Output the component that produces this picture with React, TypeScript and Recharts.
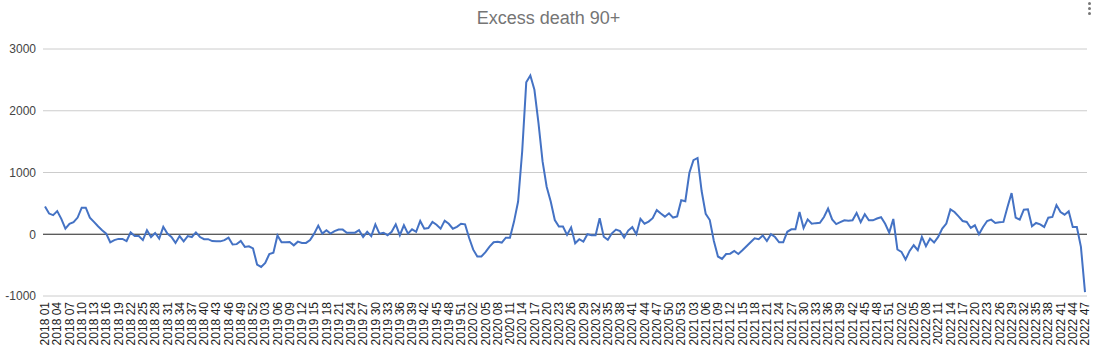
import React from "react";
import {
  LineChart,
  Line,
  XAxis,
  YAxis,
  CartesianGrid,
  ReferenceLine,
} from "recharts";

// weekly excess deaths, age 90+
const years = [2018, 2019, 2020, 2021, 2022];
const weeksPerYear = [52, 52, 53, 52, 47];

const excess2018 = [
  450, 335, 310, 375, 250, 90, 170, 195, 270, 430, 430, 270, 200, 130, 65, 10,
  -130, -95, -75, -75, -110, 30, -30, -30, -95, 65, -45, 20, -70, 120, 10, -45,
  -140, -30, -115, -30, -45, 30, -45, -80, -80, -110, -115, -115, -95, -55,
  -165, -160, -110, -205, -195, -230,
];
const excess2019 = [
  -490, -530, -465, -320, -300, -20, -130, -130, -125, -180, -120, -140, -140,
  -95, 10, 140, 10, 65, 10, 50, 75, 75, 25, 25, 25, 65, -45, 40, -30, 160, 10,
  25, -15, 40, 160, -15, 145, 10, 80, 40, 215, 90, 100, 200, 155, 90, 220, 170,
  90, 120, 170, 160,
];
const excess2020 = [
  -60, -250, -360, -360, -290, -200, -130, -120, -135, -55, -55, 205, 530,
  1340, 2460, 2570, 2340, 1800, 1180, 770, 530, 230, 125, 125, -10, 110, -145,
  -80, -120, 0, -15, -15, 260, -40, -90, 15, 75, 50, -55, 60, 115, 0, 250, 170,
  205, 260, 390, 335, 285, 340, 270, 290, 550,
];
const excess2021 = [
  535, 995, 1200, 1235, 700, 330, 230, -110, -360, -400, -320, -315, -270,
  -320, -260, -195, -130, -65, -80, -20, -110, 0, -45, -130, -130, 40, 80, 80,
  360, 100, 240, 170, 180, 185, 280, 415, 240, 165, 195, 225, 220, 225, 345,
  195, 325, 225, 225, 255, 275, 170, 27, 247,
];
const excess2022 = [
  -247, -285, -410, -270, -178, -258, -43, -194, -70, -135, -43, 91, 172, 403,
  360, 290, 215, 200, 102, 145, 0, 118, 215, 237, 183, 194, 200, 441, 667, 269,
  237, 398, 403, 129, 183, 161, 118, 269, 280, 473, 360, 317, 371, 118, 118,
  -204, -936,
];

const yTicks = [-1000, 0, 1000, 2000, 3000];

const seriesByYear = [excess2018, excess2019, excess2020, excess2021, excess2022];

const data = years.flatMap((yr, yi) =>
  Array.from({ length: weeksPerYear[yi] }, (_, w) => ({
    week: `${yr} ${String(w + 1).padStart(2, "0")}`,
    value: seriesByYear[yi][w],
  }))
);

const FONT = "Arial, 'Liberation Sans', sans-serif";

const WeekTick = (props: any) => {
  const { x, y, payload } = props;
  return (
    <text
      x={x}
      y={y}
      transform={`rotate(-90, ${x}, ${y})`}
      textAnchor="end"
      dy="0.35em"
      fontSize={12}
      fill="#222"
      fontFamily={FONT}
    >
      {payload.value}
    </text>
  );
};

export default function App() {
  return (
    <div
      style={{
        position: "absolute",
        left: 0,
        top: 0,
        width: 1097,
        height: 353,
        background: "#fff",
        fontFamily: FONT,
      }}
    >
      <div
        style={{
          position: "absolute",
          top: 8,
          left: 0,
          width: 1097,
          textAlign: "center",
          fontSize: 18,
          color: "#757575",
        }}
      >
        Excess death 90+
      </div>
      <div style={{ position: "absolute", left: 1088, top: 2 }}>
        {[0, 1, 2].map((d) => (
          <div
            key={d}
            style={{
              width: 3,
              height: 3,
              borderRadius: 2,
              background: "#777",
              marginBottom: 2,
            }}
          />
        ))}
      </div>
      <LineChart
        width={1097}
        height={353}
        data={data}
        margin={{ top: 49, right: 10, bottom: 0, left: 0 }}
      >
        <CartesianGrid vertical={false} stroke="#ccc" />
        <XAxis
          dataKey="week"
          interval={2}
          axisLine={false}
          tickLine={false}
          tickMargin={0}
          height={57}
          padding={{ left: 2, right: 2 }}
          tick={<WeekTick />}
        />
        <YAxis
          domain={[-1000, 3000]}
          ticks={yTicks}
          width={43}
          axisLine={false}
          tickLine={false}
          tickMargin={1}
          tick={{ fontSize: 12, fill: "#444", fontFamily: FONT }}
        />
        <ReferenceLine y={0} stroke="#333" />
        <Line
          type="linear"
          dataKey="value"
          stroke="#4472c4"
          strokeWidth={2}
          dot={false}
          isAnimationActive={false}
        />
      </LineChart>
    </div>
  );
}
